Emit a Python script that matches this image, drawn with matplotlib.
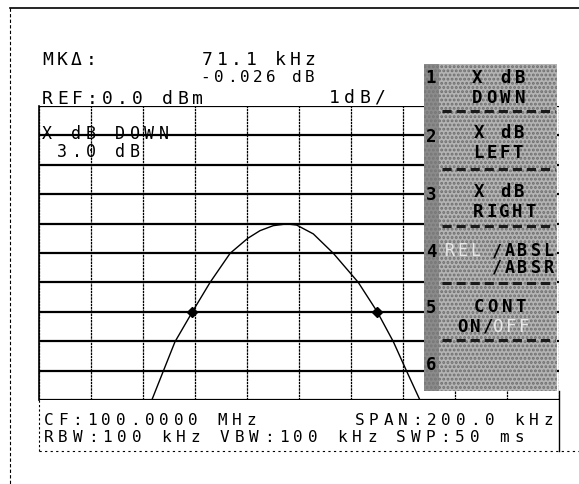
import matplotlib
matplotlib.use("Agg")
import matplotlib.pyplot as plt
from matplotlib.patches import Rectangle

# trace: offset from CF in kHz, level in dBm
trace_khz = [-56.6, -52.2, -47.7, -41.0, -34.2, -26.5, -19.7, -15.0, -9.9, -4.7, -0.9,
             5.5, 13.2, 22.8, 30.1, 36.3, 41.4, 46.5]
trace_db = [-10.0, -9.02, -8.02, -7.0, -6.0, -5.01, -4.5, -4.24, -4.07, -4.01, -4.05,
            -4.35, -5.01, -6.0, -7.0, -8.02, -9.02, -10.0]
marker_khz = [-41.0, 30.1]
marker_db = [-7.0, -7.0]

span_khz = 200.0
ref_db = 0.0
db_per_div = 1.0
n_div = 10

softkeys = [("1", ["X dB", "DOWN"]), ("2", ["X dB", "LEFT"]), ("3", ["X dB", "RIGHT"]),
            ("4", ["/ABSL", "/ABSR"]), ("5", ["CONT", "ON/"]), ("6", [])]

W, H = 579, 485
fig = plt.figure(figsize=(W / 100, H / 100), dpi=100)
fig.patch.set_facecolor("white")

# graticule area in pixels: x 39..559, y 107..401
gl, gr, gt, gb = 39, 559, 107, 401
gx = fig.add_axes([gl / W, 1 - gb / H, (gr - gl) / W, (gb - gt) / H])
gx.set_xlim(-span_khz / 2, span_khz / 2)
gx.set_ylim(ref_db - n_div * db_per_div, ref_db)
for i in range(n_div + 1):
    gx.axvline(-span_khz / 2 + i * span_khz / n_div, color="black", lw=0.9, ls=(0, (2, 0.6)))
    gx.axhline(ref_db - i * db_per_div, color="black", lw=1.6)
gx.plot(trace_khz, trace_db, color="black", lw=1.0, clip_on=True)
gx.plot(marker_khz, marker_db, ls="none", marker="D", ms=5.5, color="black")
gx.set_xticks([])
gx.set_yticks([])
for s in gx.spines.values():
    s.set_visible(False)

# overlay in pixel coordinates for text, soft-key panel and frame
ov = fig.add_axes([0, 0, 1, 1], zorder=3)
ov.set_xlim(0, W)
ov.set_ylim(H, 0)
ov.axis("off")
ov.patch.set_alpha(0)

mono_font = "DejaVu Sans Mono"


def mono(x, y, s, pitch, size=13, color="black", weight="normal"):
    for i, ch in enumerate(s):
        if ch != " ":
            ov.text(x + (i + 0.5) * pitch, y, ch, ha="center", va="baseline",
                    fontsize=size, family=mono_font, color=color, fontweight=weight)


# frame lines
ov.plot([10, 579], [9, 9], color="black", lw=1.2)
ov.plot([10, 10], [9, 485], color="black", lw=0.8, ls=(0, (3, 2)))
ov.plot([39, 579], [452, 452], color="black", lw=0.8, ls=(0, (2, 3)))
ov.plot([39, 39], [401, 452], color="black", lw=0.8, ls=(0, (2, 2)))
ov.plot([559, 559], [392, 452], color="black", lw=1.0)
ov.plot([gl, gl], [gt, gb], color="black", lw=1.2)

# header
mono(40, 65, "MKΔ:", 14.5, size=13)
mono(200, 65, "71.1 kHz", 14.6, size=13)
mono(199, 82, "-0.026 dB", 13, size=11.5)
mono(40, 104, "REF:0.0 dBm", 15, size=13)
mono(327, 103, "1dB/", 15, size=13)
mono(40, 139, "X dB DOWN", 14.6, size=12)
mono(40, 157, " 3.0 dB", 14.6, size=12)

# footer
mono(41, 425, "CF:100.0000 MHz", 14.5, size=11.5)
mono(352, 425, "SPAN:200.0 kHz", 14.5, size=11.5)
mono(41, 442, "RBW:100 kHz VBW:100 kHz SWP:50 ms", 14.7, size=11.5)

# soft-key panel
plt.rcParams["hatch.linewidth"] = 1.4
ov.add_patch(Rectangle((424, 65), 133, 327, facecolor="#b4b4b4", edgecolor="none"))
ov.add_patch(Rectangle((424, 65), 133, 327, facecolor="none", edgecolor="#6e6e6e",
                       hatch="....", lw=0))
ov.add_patch(Rectangle((424, 65), 15, 327, facecolor="#7a7a7a", edgecolor="none", alpha=0.7))
for y in [112, 170, 227, 284, 341]:
    ov.plot([442, 555], [y, y], color="#1a1a1a", lw=2.2, ls=(0, (3, 1.6)))

key_y = [83, 142, 200, 257, 313, 370]
line_y = [(83, 103), (138, 158), (197, 217), (256, 273), (312, 332)]
kw = dict(size=12.5, weight="bold")
for (num, lines), ky in zip(softkeys, key_y):
    mono(425, ky, num, 12, **kw)
mono(470, line_y[0][0], softkeys[0][1][0], 14.25, **kw)
mono(470, line_y[0][1], softkeys[0][1][1], 14.25, **kw)
mono(472, line_y[1][0], softkeys[1][1][0], 13.5, **kw)
mono(472, line_y[1][1], softkeys[1][1][1], 13, **kw)
mono(472, line_y[2][0], softkeys[2][1][0], 13.5, **kw)
mono(472, line_y[2][1], softkeys[2][1][1], 13, **kw)
mono(443, line_y[3][0], "REL", 13, color="#e8e8e8", size=12)
mono(490, line_y[3][0], softkeys[3][1][0], 13, size=12, weight="bold")
mono(490, line_y[3][1], softkeys[3][1][1], 13, size=12, weight="bold")
mono(472, line_y[4][0], softkeys[4][1][0], 14, **kw)
mono(457, line_y[4][1], softkeys[4][1][1], 12, **kw)
mono(492, line_y[4][1], "OFF", 13, color="#e8e8e8", size=12.5)

fig.savefig("out.png", dpi=100)
